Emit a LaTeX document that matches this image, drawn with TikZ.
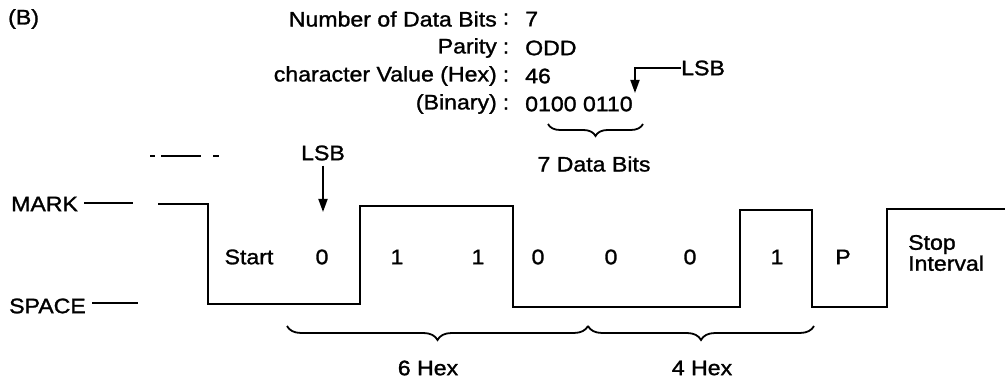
\documentclass[tikz,border=0pt]{standalone}
\usepackage{fontspec}
\setmainfont{Liberation Sans}[FakeStretch=1.1, FakeBold=1.3]
\usetikzlibrary{decorations.pathreplacing,arrows.meta}
\begin{document}
\begin{tikzpicture}[x=1pt,y=-1pt,
  lbl/.style={font=\fontsize{21}{23}\selectfont, inner sep=0pt},
  wave/.style={line width=2pt, line join=miter},
  arr/.style={line width=1.8pt, -{Triangle[length=13pt,width=9pt]}},
  lvl/.style={line width=1.8pt},
  brc/.style={line width=1.8pt, decorate, decoration={brace, mirror, amplitude=#1}}]
\useasboundingbox (0,0) rectangle (1005,379);

% header
\node[lbl, anchor=west] (B) at (8,19) {(B)};
\node[lbl, anchor=east] (h1) at (497,19) {Number of Data Bits};
\node[lbl, anchor=east] (h2) at (497,48) {Parity};
\node[lbl, anchor=east] (h3) at (497,76) {character Value (Hex)};
\node[lbl, anchor=east] (h4) at (497,104) {(Binary)};
\node[lbl] (c1) at (506,19) {:};
\node[lbl] (c2) at (506,48) {:};
\node[lbl] (c3) at (506,76) {:};
\node[lbl] (c4) at (506,104) {:};
\node[lbl, anchor=west] (v1) at (525,19) {7};
\node[lbl, anchor=west] (v2) at (525,48) {ODD};
\node[lbl, anchor=west] (v3) at (525,76) {46};
\node[lbl, anchor=west] (v4) at (525,104) {0100 0110};

% top LSB arrow
\node[lbl, anchor=west] (lsbA) at (681,68) {LSB};
\coordinate (lsbAtip) at (635,93);
\draw[arr] (lsbA.west) -| (lsbAtip);

% 7 data bits brace
\coordinate (b7l) at (548,124);
\coordinate (b7r) at (643,124);
\draw[brc=12pt] (b7l) -- (b7r);
\node[lbl] (d7) at (594,164) {7 Data Bits};

% faint dashed mark
\draw[line width=1.2pt, dash pattern=on 5pt off 6pt on 40pt off 12pt on 6pt] (150,156) -- (220,156);

% level labels
\node[lbl, anchor=west] (mark) at (11,204) {MARK};
\node[lbl, anchor=west] (space) at (9,306) {SPACE};
\coordinate (m1) at (84,203);
\coordinate (m2) at (133,203);
\coordinate (s1) at (92,303);
\coordinate (s2) at (138,303);
\draw[lvl] (m1) -- (m2);
\draw[lvl] (s1) -- (s2);

% waveform
\draw[wave] (158,204) -- (208,204) -- (208,304) -- (360,304) -- (360,206)
  -- (513,206) -- (513,307) -- (740,307) -- (740,210) -- (812,210)
  -- (812,307) -- (887,307) -- (887,209) -- (1005,209);

% LSB arrow
\node[lbl] (lsbB) at (323,153) {LSB};
\coordinate (lsbBtip) at (323,212);
\draw[arr] (lsbB.south) ++(0,5) -- (lsbBtip);

% bit labels
\node[lbl] (start) at (249,257) {Start};
\node[lbl] (bit0) at (322,257) {0};
\node[lbl] (bit1) at (397,257) {1};
\node[lbl] (bit2) at (478,257) {1};
\node[lbl] (bit3) at (538,257) {0};
\node[lbl] (bit4) at (611,257) {0};
\node[lbl] (bit5) at (690,257) {0};
\node[lbl] (bit6) at (777,257) {1};
\node[lbl] (par) at (843,257) {P};
\node[lbl, anchor=west, align=left] (stop) at (908,253) {Stop\\[-2pt]Interval};

% bottom braces
\coordinate (bAl) at (287,326);
\coordinate (bAm) at (588,326);
\coordinate (bAr) at (814,326);
\draw[brc=14pt] (bAl) -- (bAm);
\draw[brc=14pt] (bAm) -- (bAr);
\node[lbl] (hex6) at (428,368) {6 Hex};
\node[lbl] (hex4) at (702,368) {4 Hex};
\end{tikzpicture}
\end{document}
